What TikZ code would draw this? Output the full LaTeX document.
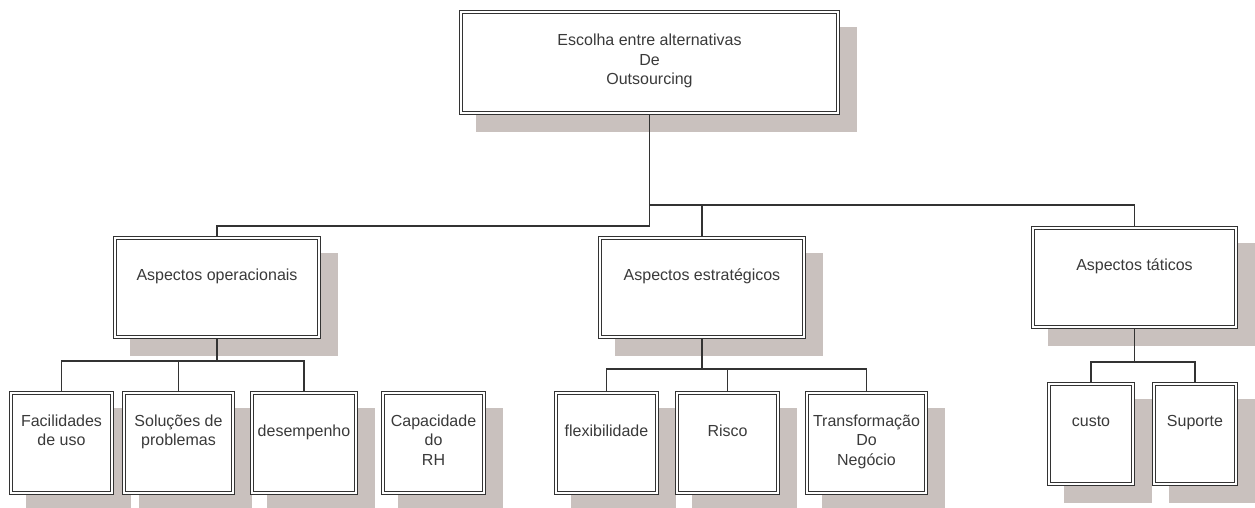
\documentclass[tikz,border=0pt]{standalone}
\usepackage{fontspec}
\setmainfont{Liberation Sans}
\usetikzlibrary{calc}
\pgfdeclarelayer{shade}
\pgfdeclarelayer{links}
\pgfsetlayers{shade,links,main}
\definecolor{shadowc}{RGB}{201,193,190}
\definecolor{inkc}{RGB}{51,51,51}
\definecolor{textc}{RGB}{58,58,58}
\tikzset{
  box/.style={rectangle, draw=inkc, line width=1.1pt, double=white, double distance=2.6pt,
    fill=white, inner sep=1pt, outer sep=0pt, align=center, text=textc,
    font=\fontsize{16}{19.5}\selectfont,
    execute at begin node={\rule{0pt}{\dimexpr0.7\baselineskip+8.5pt\relax}},
    execute at end node=\strut},
  head/.style={box, minimum width=#1, minimum height=99pt},
  leaf/.style={box, minimum width=#1, minimum height=100pt},
  link/.style={draw=inkc, line width=1.2pt},
}

\begin{document}
\begin{tikzpicture}[x=1pt,y=-1pt]
\useasboundingbox (0,0) rectangle (1255,508);
\node[box, minimum width=377pt, minimum height=101pt] (esc) at (649.5,62.5) {Escolha entre alternativas\\De\\Outsourcing};
\node[head=204pt] (ope) at (217,287.5) {Aspectos operacionais\\\strut};
\node[head=204pt] (est) at (702,287.5) {Aspectos estratégicos\\\strut};
\node[head=203pt] (tat) at (1134.5,277.5) {Aspectos táticos\\\strut};
\node[leaf=101pt] (fac) at (61.5,443) {Facilidades\\de uso\\\strut};
\node[leaf=109pt] (sol) at (178.5,443) {Soluções de\\problemas\\\strut};
\node[leaf=104pt] (des) at (304,443) {desempenho\\\strut};
\node[leaf=101pt] (cap) at (433.5,443) {Capacidade\\do\\RH};
\node[leaf=101pt] (fle) at (606.5,443) {flexibilidade\\\strut};
\node[leaf=101pt] (ris) at (727.5,443) {Risco\\\strut};
\node[leaf=119pt] (tra) at (866.5,443) {Transformação\\Do\\Negócio};
\node[leaf=84pt] (cus) at (1091,434) {custo\\\strut};
\node[leaf=82pt] (sup) at (1195,434) {Suporte\\\strut};
\begin{pgfonlayer}{shade}
\foreach \n in {esc,ope,est,tat,fac,sol,des,cap,fle,ris,tra,cus,sup}
  \fill[shadowc] ($(\n.north west)+(15,15)$) rectangle ($(\n.south east)+(19,19)$);
\end{pgfonlayer}
\begin{pgfonlayer}{links}
\coordinate (j1) at (esc.south |- 0,226);
\coordinate (j2) at (esc.south |- 0,205);
\draw[link] (esc.south) -- (j1) -| (ope.north);
\draw[link] (j2) -| (est.north);
\draw[link] (j2) -| (tat.north);
\coordinate (j3) at (ope.south |- 0,361);
\draw[link] (ope.south) -- (j3);
\foreach \n in {fac,sol,des} \draw[link] (\n.north) |- (j3);
\coordinate (j4) at (est.south |- 0,369);
\draw[link] (est.south) -- (j4);
\foreach \n in {fle,ris,tra} \draw[link] (\n.north) |- (j4);
\coordinate (j5) at (tat.south |- 0,362);
\draw[link] (tat.south) -- (j5);
\foreach \n in {cus,sup} \draw[link] (\n.north) |- (j5);
\end{pgfonlayer}
\end{tikzpicture}
\end{document}
